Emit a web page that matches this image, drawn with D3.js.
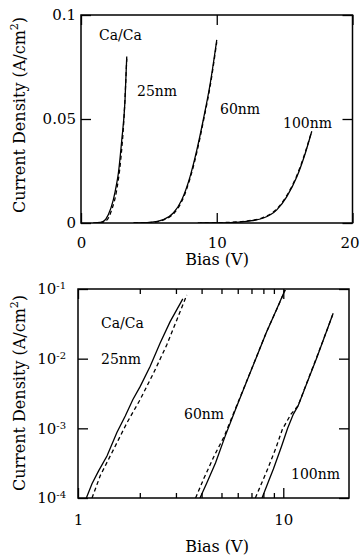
<!DOCTYPE html>
<html>
<head>
<meta charset="utf-8">
<script src="https://cdn.jsdelivr.net/npm/d3@7"></script>
<style>
  body { margin: 0; background: #fff; }
  svg text { fill: #000; }
</style>
</head>
<body>
<svg id="chart" width="360" height="556"></svg>
<script>
// ---- data: [bias V, current density A/cm2]
const lin25Solid = [[0.9, 0], [1.4, 0.0003], [1.65, 0.0008], [2.01, 0.004], [2.38, 0.0111], [2.63, 0.019], [2.75, 0.0238], [3.0, 0.0397], [3.24, 0.0587], [3.37, 0.080]];
const lin25Dash  = [[1.4, 0], [1.89, 0.0013], [2.26, 0.0063], [2.63, 0.0159], [2.92, 0.030], [3.17, 0.0508], [3.37, 0.079]];
const lin60Solid = [[3.86, 0], [5.09, 0.0003], [6.07, 0.0016], [6.8, 0.0048], [7.42, 0.0111], [8.03, 0.0222], [8.53, 0.035], [9.02, 0.05], [9.51, 0.0667], [10.0, 0.088]];
const lin60Dash  = [[3.9, 0], [5.15, 0.0003], [6.12, 0.0016], [6.85, 0.0047], [7.46, 0.0109], [8.06, 0.022], [8.56, 0.0348], [9.04, 0.0498], [9.52, 0.066], [10.0, 0.087]];
const lin100Solid = [[8.77, 0], [10.98, 0.0002], [12.21, 0.0008], [13.44, 0.0024], [14.42, 0.0063], [15.16, 0.0127], [15.9, 0.0222], [16.51, 0.0333], [17.0, 0.0441]];
const lin100Dash  = [[8.6, 0], [10.9, 0.0003], [12.15, 0.0009], [13.4, 0.0026], [14.4, 0.0066], [15.14, 0.013], [15.88, 0.0225], [16.5, 0.0336], [16.98, 0.0438]];

// ---- data
const log25Solid = [[1.098, 1.0e-4], [1.17, 1.6e-4], [1.26, 2.45e-4], [1.384, 4.0e-4], [1.547, 8.7e-4], [1.699, 1.5e-3], [1.851, 2.6e-3], [2.01, 4.0e-3], [2.247, 7.8e-3], [2.513, 0.0168], [2.811, 0.034], [3.24, 0.072]];
const log25Dash  = [[1.17, 1.0e-4], [1.284, 2.1e-4], [1.491, 5.0e-4], [1.731, 1.2e-3], [2.01, 2.6e-3], [2.333, 6.2e-3], [2.708, 0.0158], [3.03, 0.036], [3.388, 0.082]];
const log60Solid = [[3.93, 1.0e-4], [4.25, 1.67e-4], [4.68, 3.2e-4], [5.2, 7.6e-4], [5.85, 1.87e-3], [6.55, 4.3e-3], [7.35, 0.01], [8.25, 0.0233], [9.25, 0.05], [10.2, 0.097]];
const log60Dash  = [[3.74, 1.0e-4], [4.1, 1.9e-4], [4.62, 4.1e-4], [5.15, 7.6e-4], [5.83, 1.87e-3], [6.54, 4.3e-3], [7.34, 0.01], [8.25, 0.0235], [9.26, 0.05], [10.22, 0.097]];
const log100Solid = [[7.88, 1.0e-4], [8.45, 1.7e-4], [8.95, 2.6e-4], [9.8, 5.5e-4], [10.5, 1.0e-3], [11.2, 1.6e-3], [11.8, 2.1e-3], [12.8, 3.9e-3], [14.5, 0.01], [16.35, 0.026], [17.5, 0.045]];
const log100Dash  = [[7.31, 1.0e-4], [8.39, 2.6e-4], [9.2, 5.2e-4], [9.9, 9.7e-4], [10.9, 1.6e-3], [11.8, 2.1e-3], [12.8, 3.95e-3], [14.5, 0.0102], [16.35, 0.026], [17.38, 0.0425]];

const linXTicks = [0, 10, 20];
const linYTicks = [0, 0.05, 0.1];
const logXMajor = [1, 10];
const logXMinor = [2, 3, 4, 5, 6, 7, 8, 9];
const logYTicks = [1e-4, 1e-3, 1e-2, 1e-1];
const thickness = ['25nm', '60nm', '100nm'];

const svg = d3.select('#chart');
const FS = 15;     // tick labels
const TS = 16;     // axis titles
const AS = 14;     // annotations
const SERIF = "'DejaVu Serif', 'Liberation Serif', 'Noto Serif', Times, serif";

function inwardAxis(g, axis) {
  g.call(axis);
  g.attr('font-family', SERIF).attr('font-size', FS);
  g.select('.domain').remove();
  g.selectAll('.tick line').attr('stroke', '#000').attr('stroke-width', 1.3);
  g.selectAll('.tick text').attr('font-family', SERIF).attr('font-size', FS);
}

function label(x, y, txt, size, anchor) {
  return svg.append('text').attr('x', x).attr('y', y)
    .attr('text-anchor', anchor || 'start')
    .attr('font-family', SERIF).attr('font-size', size)
    .text(txt);
}

function yLabel(cx, cy) {
  const t = svg.append('text')
    .attr('transform', 'translate(' + cx + ',' + cy + ') rotate(-90)')
    .attr('text-anchor', 'middle')
    .attr('font-family', SERIF)
    .attr('font-size', TS);
  t.append('tspan').text('Current Density (A/cm');
  t.append('tspan').attr('dy', -7).attr('font-size', 11).text('2');
  t.append('tspan').attr('dy', 7).text(')');
}

function drawLines(g, series, x, y, curve) {
  let line = d3.line()
    .curve(curve)
    .x(function(d) { return x(d[0]); })
    .y(function(d) { return y(d[1]); });
  series.forEach(function(s) {
    g.append('path')
      .attr('d', line(s.data))
      .attr('fill', 'none')
      .attr('stroke', '#000')
      .attr('stroke-width', 1.3)
      .attr('stroke-dasharray', s.dash ? '4,3' : null);
  });
}

// ================= top: linear panel
let m1 = {left: 81, right: 352.5, top: 15, bottom: 223};
let x1 = d3.scaleLinear().domain([0, 20]).range([m1.left, m1.right]);
let y1 = d3.scaleLinear().domain([0, 0.1]).range([m1.bottom, m1.top]);

svg.append('clipPath').attr('id', 'clip1').append('rect')
  .attr('x', m1.left).attr('y', m1.top).attr('width', m1.right - m1.left).attr('height', m1.bottom - m1.top);

let g1 = svg.append('g').attr('clip-path', 'url(#clip1)');
drawLines(g1, [
  {data: lin25Solid}, {data: lin25Dash, dash: true},
  {data: lin60Solid}, {data: lin60Dash, dash: true},
  {data: lin100Solid}, {data: lin100Dash, dash: true}
], x1, y1, d3.curveMonotoneX);

let xb1 = svg.append('g').attr('transform', 'translate(0,' + m1.bottom + ')');
inwardAxis(xb1, d3.axisBottom(x1).tickValues(linXTicks).tickSizeInner(-10).tickSizeOuter(0).tickPadding(14));
// keep the last label ("20") inside the page
xb1.selectAll('.tick text').filter(function(d) { return d === 20; }).attr('dx', -3);
inwardAxis(svg.append('g').attr('transform', 'translate(0,' + m1.top + ')'),
  d3.axisTop(x1).tickValues(linXTicks).tickSizeInner(-10).tickSizeOuter(0).tickFormat(''));
inwardAxis(svg.append('g').attr('transform', 'translate(' + m1.left + ',0)'),
  d3.axisLeft(y1).tickValues(linYTicks).tickSizeInner(-10).tickSizeOuter(0).tickPadding(5)
    .tickFormat(function(d) { return d === 0 ? '0' : String(d); }));
inwardAxis(svg.append('g').attr('transform', 'translate(' + m1.right + ',0)'),
  d3.axisRight(y1).tickValues(linYTicks).tickSizeInner(-10).tickSizeOuter(0).tickFormat(''));

svg.append('rect')
  .attr('x', m1.left).attr('y', m1.top)
  .attr('width', m1.right - m1.left).attr('height', m1.bottom - m1.top)
  .attr('fill', 'none').attr('stroke', '#000').attr('stroke-width', 1.5);

label(99, 40, 'Ca/Ca', AS);
label(137, 96, thickness[0], AS);
label(220, 114, thickness[1], AS);
label(283, 128, thickness[2], AS);

label(217, 265, 'Bias (V)', TS, 'middle');
yLabel(25, 115);

// ================= bottom: log-log panel
let m2 = {left: 78, right: 349, top: 289, bottom: 498};
let x2 = d3.scaleLog().domain([1, 20.9]).range([m2.left, m2.right]);
let y2 = d3.scaleLog().domain([1e-4, 1e-1]).range([m2.bottom, m2.top]);

svg.append('clipPath').attr('id', 'clip2').append('rect')
  .attr('x', m2.left).attr('y', m2.top).attr('width', m2.right - m2.left).attr('height', m2.bottom - m2.top);

let g2 = svg.append('g').attr('clip-path', 'url(#clip2)');
drawLines(g2, [
  {data: log25Solid}, {data: log25Dash, dash: true},
  {data: log60Solid}, {data: log60Dash, dash: true},
  {data: log100Solid}, {data: log100Dash, dash: true}
], x2, y2, d3.curveLinear);

inwardAxis(svg.append('g').attr('transform', 'translate(0,' + m2.bottom + ')'),
  d3.axisBottom(x2).tickValues(logXMajor).tickSizeInner(-10).tickSizeOuter(0).tickPadding(16)
    .tickFormat(d3.format('d')));
inwardAxis(svg.append('g').attr('transform', 'translate(0,' + m2.bottom + ')'),
  d3.axisBottom(x2).tickValues(logXMinor).tickSizeInner(-5).tickSizeOuter(0).tickFormat(''));
inwardAxis(svg.append('g').attr('transform', 'translate(0,' + m2.top + ')'),
  d3.axisTop(x2).tickValues(logXMajor).tickSizeInner(-10).tickSizeOuter(0).tickFormat(''));
inwardAxis(svg.append('g').attr('transform', 'translate(0,' + m2.top + ')'),
  d3.axisTop(x2).tickValues(logXMinor).tickSizeInner(-5).tickSizeOuter(0).tickFormat(''));

let yAx = svg.append('g').attr('transform', 'translate(' + m2.left + ',0)');
inwardAxis(yAx, d3.axisLeft(y2).tickValues(logYTicks).tickSizeInner(-10).tickSizeOuter(0).tickPadding(12)
  .tickFormat(function(d) { return String(Math.round(Math.log10(d))); }));
// turn exponent labels into 10^n
yAx.selectAll('.tick text').each(function() {
  let t = d3.select(this);
  let e = t.text();
  t.text('');
  t.append('tspan').text('10');
  t.append('tspan').attr('dy', '-0.5em').attr('font-size', 10).text(e);
});
inwardAxis(svg.append('g').attr('transform', 'translate(' + m2.right + ',0)'),
  d3.axisRight(y2).tickValues(logYTicks).tickSizeInner(-10).tickSizeOuter(0).tickFormat(''));

svg.append('rect')
  .attr('x', m2.left).attr('y', m2.top)
  .attr('width', m2.right - m2.left).attr('height', m2.bottom - m2.top)
  .attr('fill', 'none').attr('stroke', '#000').attr('stroke-width', 1.5);

label(101, 328, 'Ca/Ca', AS);
label(101, 364, thickness[0], AS);
label(184, 419, thickness[1], AS);
label(291, 479, thickness[2], AS);

label(217, 552, 'Bias (V)', TS, 'middle');
yLabel(25, 393);
</script>
</body>
</html>
